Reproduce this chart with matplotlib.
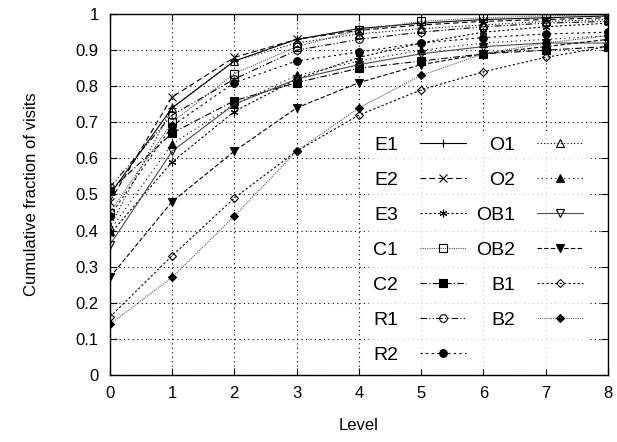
import numpy as np
import matplotlib
matplotlib.use("Agg")
import matplotlib.pyplot as plt
from matplotlib.ticker import FormatStrFormatter, MultipleLocator

plt.rcParams["font.family"] = ["Liberation Sans", "DejaVu Sans"]

# Cumulative fraction of visits per level
levels = np.arange(0, 9)
series_names = ["E1", "E2", "E3", "C1", "C2", "R1", "R2",
                "O1", "O2", "OB1", "OB2", "B1", "B2"]

e1 = [0.50, 0.74, 0.87, 0.93, 0.96, 0.975, 0.985, 0.99, 0.995]
e2 = [0.48, 0.77, 0.88, 0.93, 0.955, 0.97, 0.98, 0.985, 0.99]
e3 = [0.39, 0.59, 0.73, 0.82, 0.88, 0.92, 0.95, 0.965, 0.975]
c1 = [0.45, 0.70, 0.835, 0.91, 0.955, 0.98, 0.99, 0.995, 1.0]
c2 = [0.51, 0.67, 0.76, 0.81, 0.85, 0.87, 0.89, 0.90, 0.91]
r1 = [0.52, 0.72, 0.82, 0.90, 0.93, 0.95, 0.965, 0.975, 0.98]
r2 = [0.44, 0.69, 0.81, 0.87, 0.895, 0.92, 0.935, 0.945, 0.95]
o1 = [0.41, 0.74, 0.87, 0.92, 0.945, 0.96, 0.97, 0.98, 0.985]
o2 = [0.40, 0.64, 0.75, 0.83, 0.87, 0.90, 0.92, 0.93, 0.94]
ob1 = [0.36, 0.62, 0.75, 0.82, 0.86, 0.89, 0.91, 0.92, 0.92]
ob2 = [0.27, 0.48, 0.62, 0.74, 0.81, 0.86, 0.89, 0.91, 0.93]
b1 = [0.16, 0.33, 0.49, 0.62, 0.72, 0.79, 0.84, 0.88, 0.91]
b2 = [0.14, 0.27, 0.44, 0.62, 0.74, 0.83, 0.89, 0.92, 0.94]

all_values = [e1, e2, e3, c1, c2, r1, r2, o1, o2, ob1, ob2, b1, b2]

# gnuplot-ish styles: (marker, filled, dash pattern, colour)
styles = [
    ("+", False, "-", "k"),
    ("x", False, (0, (5, 3)), "k"),
    ((6, 2, 0), False, (0, (2, 2)), "k"),
    ("s", False, (0, (1, 1)), "0.35"),
    ("s", True, (0, (6, 2, 1, 2)), "k"),
    ("o", False, (0, (6, 2, 1, 2, 1, 2)), "k"),
    ("o", True, (0, (2, 3)), "k"),
    ("^", False, (0, (1, 2)), "k"),
    ("^", True, (0, (1, 3)), "k"),
    ("v", False, "-", "0.3"),
    ("v", True, (0, (4, 2)), "k"),
    ("D", False, (0, (2, 2)), "k"),
    ("D", True, (0, (1, 1)), "0.35"),
]

fig = plt.figure(figsize=(6.17, 4.42), dpi=100)
ax = fig.add_axes([0.178, 0.152, 0.807, 0.816])

for name, vals, (mk, filled, ls, col) in zip(series_names, all_values, styles):
    ms = 4.5 if mk == "D" else 5.5
    ax.plot(levels, vals, linestyle=ls, color=col, lw=0.8,
            marker=mk, markersize=ms, markeredgecolor="k", markeredgewidth=0.8,
            markerfacecolor="k" if filled else "none", label=name)

ax.set_xlim(0, 8)
ax.set_ylim(0, 1)
ax.xaxis.set_major_locator(MultipleLocator(1))
ax.yaxis.set_major_locator(MultipleLocator(0.1))
ax.yaxis.set_major_formatter(FormatStrFormatter("%g"))
ax.tick_params(direction="in", top=True, right=True, length=5, width=0.8, labelsize=12, pad=8)
ax.grid(True, color="k", linestyle=(0, (1, 3)), lw=0.8)
for sp in ax.spines.values():
    sp.set_linewidth(1.0)

ax.set_xlabel("Level", fontsize=12, labelpad=12)
ax.set_ylabel("Cumulative fraction of visits", fontsize=12, labelpad=26)

leg = ax.legend(ncol=2, loc="upper right", bbox_to_anchor=(0.978, 0.70), frameon=True,
                markerfirst=False, fontsize=14, handlelength=2.4, labelspacing=0.9,
                columnspacing=0.5, handletextpad=1.1, borderpad=0.2)
leg.get_frame().set_facecolor("white")
leg.get_frame().set_edgecolor("white")
for t in leg.get_texts():
    t.set_ha("right")

fig.savefig("out.png", dpi=100)
